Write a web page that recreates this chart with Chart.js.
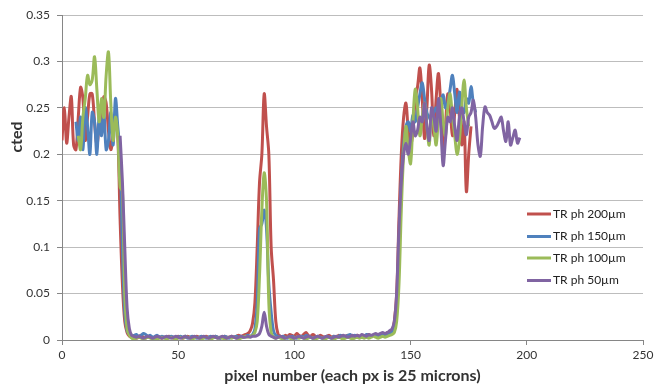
<!DOCTYPE html>
<html>
<head>
<meta charset="utf-8">
<script src="https://cdn.jsdelivr.net/npm/chart.js@4/dist/chart.umd.min.js"></script>
<style>
  html, body { margin: 0; padding: 0; background: #fff; }
</style>
</head>
<body>
<canvas id="profile" width="658" height="385"></canvas>
<script>
// series labels (legend order)
const seriesNames = ["TR ph 200\u00b5m", "TR ph 150\u00b5m", "TR ph 100\u00b5m", "TR ph 50\u00b5m"];

// first pixel number of each series, then one value per pixel
const ph200Start = 0;
const ph200 = [
  0.215,0.25,0.212,0.24,0.262,0.21,0.205,0.24,0.272,0.26,0.215,0.24,0.265,0.265,0.235,0.21,0.23,0.24,0.262,0.255,0.225,0.205,0.22,0.24,0.22,0.13,0.06,0.02,0.008,0.004,
  0.003,0.004,0.002,0.003,0.005,0.003,0.002,0.004,0.003,0.002,0.003,0.004,0.003,0.002,0.003,0.002,0.004,0.003,0.002,0.003,
  0.004,0.003,0.002,0.003,0.004,0.003,0.002,0.003,0.004,0.003,0.002,0.003,0.004,0.003,0.002,0.003,0.004,0.003,0.002,0.003,
  0.004,0.003,0.003,0.004,0.003,0.004,0.005,0.004,0.005,0.006,0.007,
  0.01,0.018,0.04,0.1,0.17,0.2,0.265,0.23,0.2,0.1,0.065,0.02,0.006,
  0.004,0.003,0.005,0.004,0.006,0.005,0.004,0.007,0.005,0.004,0.006,0.008,0.005,0.004,0.006,0.004,0.003,0.005,0.004,0.003,
  0.004,0.005,0.003,0.004,0.003,0.005,0.004,0.003,0.004,0.005,0.004,0.003,0.004,0.005,0.004,0.003,0.004,0.005,0.006,0.004,
  0.005,0.004,0.006,0.005,0.007,0.006,0.008,0.007,0.009,
  0.02,0.05,0.13,0.2,0.24,
  0.255,0.225,0.21,0.224,0.26,0.273,0.293,0.26,0.217,0.25,0.296,0.27,0.22,0.26,0.287,0.25,0.2,0.23,0.265,0.25,
  0.22,0.245,0.27,0.24,0.21,0.235,0.16,0.2,0.23
];

const ph150Start = 6;
const ph150 = [
  0.235,0.215,0.24,0.205,0.25,0.23,0.2,0.245,0.235,0.2,0.24,0.22,0.245,0.205,0.215,0.245,0.21,0.26,0.23,0.2,0.1,0.03,0.01,0.006,
  0.004,0.005,0.006,0.004,0.005,0.007,0.006,0.004,0.005,0.003,0.004,0.005,0.003,0.004,0.003,0.002,0.003,0.004,0.003,0.002,
  0.003,0.004,0.003,0.004,0.002,0.003,0.004,0.003,0.002,0.003,0.004,0.003,0.002,0.003,0.004,0.003,0.004,0.003,0.002,0.003,
  0.004,0.003,0.002,0.003,0.003,0.004,0.003,0.004,0.003,0.004,0.005,0.004,0.006,
  0.012,0.04,0.12,0.125,0.14,0.12,0.06,0.03,0.01,0.005,
  0.004,0.003,0.004,0.003,0.002,0.003,0.004,0.003,0.002,0.003,0.004,0.003,0.005,0.004,0.003,0.002,0.003,0.004,0.003,0.002,
  0.003,0.004,0.003,0.002,0.004,0.003,0.004,0.005,0.003,0.004,0.005,0.006,0.004,0.005,0.004,0.003,0.005,0.004,0.006,0.005,
  0.004,0.005,0.006,0.005,0.004,0.006,0.005,0.007,0.006,0.008,
  0.012,0.035,0.1,0.17,0.21,
  0.23,0.235,0.225,0.242,0.235,0.25,0.265,0.277,0.26,0.245,0.24,0.235,0.245,0.25,0.24,0.255,0.264,0.25,0.255,0.27,
  0.285,0.265,0.245,0.267,0.25,0.245,0.26,0.255,0.273,0.255,0.245
];

const ph100Start = 7;
const ph100 = [
  0.22,0.205,0.24,0.26,0.285,0.275,0.28,0.305,0.27,0.235,0.26,0.24,0.285,0.31,0.255,0.215,0.24,0.22,0.165,0.16,0.05,0.012,0.005,
  0.002,0.001,0.002,0.003,0.002,0.001,0.002,0.003,0.002,0.001,0.002,0.001,0.002,0.003,0.002,0.001,0.002,0.003,0.002,0.001,
  0.002,0.003,0.002,0.004,0.003,0.002,0.001,0.002,0.003,0.002,0.001,0.002,0.003,0.002,0.001,0.002,0.003,0.002,0.003,0.002,
  0.001,0.002,0.003,0.002,0.003,0.002,0.001,0.002,0.003,0.004,0.003,0.004,0.005,0.008,
  0.02,0.07,0.14,0.18,0.15,0.04,0.008,
  0.003,0.002,0.003,0.002,0.001,0.002,0.003,0.002,0.001,0.002,0.003,0.002,0.003,0.002,0.001,0.002,0.003,0.002,0.001,0.002,
  0.003,0.002,0.001,0.002,0.003,0.002,0.001,0.002,0.003,0.002,0.001,0.002,0.003,0.002,0.001,0.002,0.003,0.002,0.003,0.002,
  0.003,0.002,0.003,0.004,0.003,0.002,0.003,0.004,0.003,0.004,0.005,0.006,
  0.008,0.02,0.06,0.14,0.2,
  0.23,0.205,0.19,0.235,0.27,0.25,0.22,0.24,0.255,0.23,0.21,0.245,0.23,0.21,0.24,0.26,0.235,0.22,0.25,0.265,
  0.24,0.22,0.2,0.215,0.25,0.28,0.25,0.23
];

const ph50Start = 25;
const ph50 = [
  0.22,0.17,0.1,0.035,0.012,0.005,
  0.004,0.003,0.004,0.003,0.002,0.003,0.004,0.003,0.002,0.003,0.004,0.003,0.002,0.003,0.004,0.003,0.002,0.003,0.004,0.003,
  0.002,0.003,0.004,0.003,0.002,0.003,0.004,0.003,0.002,0.003,0.004,0.003,0.002,0.003,0.004,0.003,0.002,0.003,0.004,0.003,
  0.002,0.003,0.004,0.003,0.002,0.003,0.004,0.003,0.003,0.004,0.003,0.004,0.004,0.005,
  0.007,0.015,0.03,0.015,0.006,
  0.004,0.003,0.002,0.003,0.004,0.003,0.002,0.003,0.004,0.003,0.002,0.003,0.004,0.003,0.002,0.003,0.004,0.003,0.002,0.003,
  0.004,0.003,0.002,0.003,0.004,0.003,0.002,0.003,0.004,0.003,0.004,0.005,0.004,0.003,0.004,0.005,0.004,0.005,0.004,0.006,
  0.005,0.004,0.006,0.005,0.006,0.007,0.006,0.007,0.008,0.007,0.008,0.01,0.012,
  0.02,0.05,0.12,0.17,0.2,
  0.212,0.2,0.217,0.235,0.22,0.226,0.24,0.235,0.255,0.23,0.215,0.25,0.24,0.225,0.26,0.23,0.188,0.215,0.24,0.235,
  0.25,0.23,0.215,0.24,0.25,0.235,0.221,0.24,0.245,0.258,0.24,0.21,0.198,0.23,0.251,0.245,0.242,0.235,0.228,0.23,
  0.235,0.24,0.225,0.214,0.235,0.21,0.218,0.226,0.212,0.218
];

// axis ticks
const xTicks = [0, 50, 100, 150, 200, 250];
const yTicks = [0, 0.05, 0.1, 0.15, 0.2, 0.25, 0.3, 0.35];

const colors = ["#c0504d", "#4f81bd", "#9bbb59", "#8064a2"];
const FONT = "Lato";

function toPoints(start, values) {
  return values.map((v, i) => ({ x: start + i, y: v }));
}

// Excel style legend sits inside the plot, plus the off-centre y title
const overlay = {
  id: "overlay",
  afterDraw(chart) {
    const ctx = chart.ctx;
    ctx.save();
    ctx.fillStyle = "#333";
    ctx.font = "bold 16px " + FONT;
    ctx.textAlign = "center";
    ctx.textBaseline = "middle";
    ctx.translate(17, 137);
    ctx.rotate(-Math.PI / 2);
    ctx.fillText("cted", 0, 0);
    ctx.restore();

    ctx.save();
    ctx.font = "12px " + FONT;
    ctx.textAlign = "left";
    ctx.textBaseline = "middle";
    const rows = [214, 236.5, 258, 280.5];
    chart.data.datasets.forEach((ds, i) => {
      const y = rows[i];
      ctx.strokeStyle = ds.borderColor;
      ctx.lineWidth = 3;
      ctx.beginPath();
      ctx.moveTo(527, y);
      ctx.lineTo(551, y);
      ctx.stroke();
      ctx.fillStyle = "#222";
      ctx.fillText(ds.label, 553, y);
    });
    ctx.restore();
  }
};

const datasets = [
  [ph200Start, ph200],
  [ph150Start, ph150],
  [ph100Start, ph100],
  [ph50Start, ph50]
].map(([start, vals], i) => ({
  label: seriesNames[i],
  data: toPoints(start, vals),
  borderColor: colors[i],
  backgroundColor: colors[i],
  borderWidth: 3,
  pointRadius: 0,
  tension: 0.35,
  fill: false,
  order: 4 - i   // later series drawn on top, like the original
}));

new Chart(document.getElementById("profile"), {
  type: "line",
  data: { datasets: datasets },
  options: {
    responsive: false,
    animation: false,
    devicePixelRatio: 1,
    layout: { padding: { top: 15, right: 15, left: 0, bottom: 0 } },
    plugins: {
      legend: { display: false },
      tooltip: { enabled: false }
    },
    scales: {
      x: {
        type: "linear",
        min: xTicks[0],
        max: xTicks[xTicks.length - 1],
        afterBuildTicks: (s) => { s.ticks = xTicks.map(v => ({ value: v })); },
        afterFit: (s) => { s.height = 45; },
        ticks: { color: "#333", font: { family: FONT, size: 12 }, padding: 3, maxRotation: 0 },
        grid: { drawOnChartArea: false, tickLength: 5, tickColor: "#868686" },
        border: { color: "#868686" },
        title: {
          display: true,
          text: "pixel number (each px is 25 microns)",
          color: "#333",
          font: { family: FONT, size: 16, weight: "bold" },
          padding: { top: 0, bottom: 0 }
        }
      },
      y: {
        min: yTicks[0],
        max: yTicks[yTicks.length - 1],
        afterBuildTicks: (s) => { s.ticks = yTicks.map(v => ({ value: v })); },
        afterFit: (s) => { s.width = 62; },
        ticks: {
          color: "#333",
          font: { family: FONT, size: 12 },
          padding: 7,
          callback: (v) => String(Number(v.toFixed(2)))
        },
        grid: { color: "#bdbdbd", tickLength: 5, tickColor: "#868686" },
        border: { color: "#868686" }
      }
    }
  },
  plugins: [overlay]
});
</script>
</body>
</html>
